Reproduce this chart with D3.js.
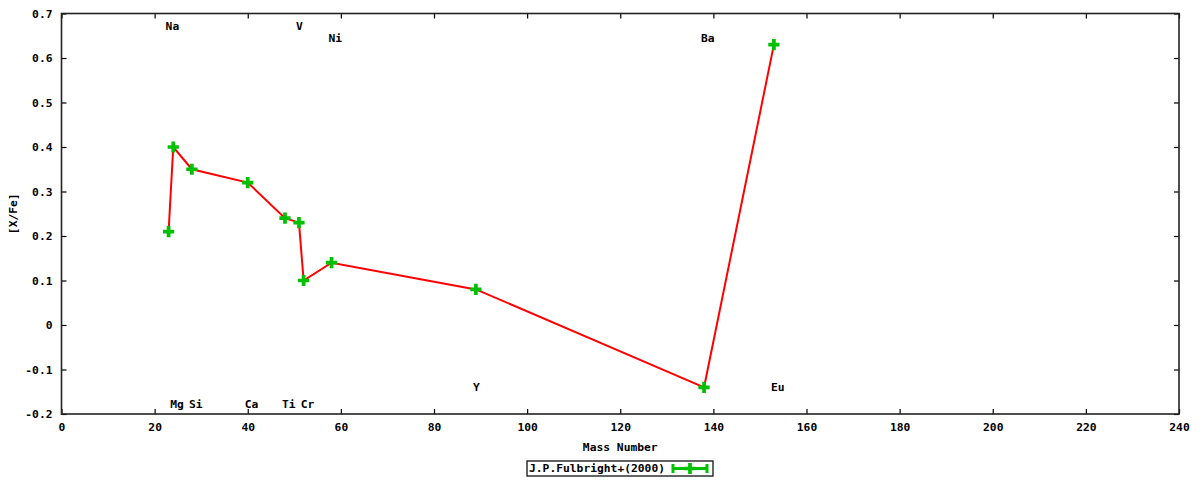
<!DOCTYPE html>
<html>
<head>
<meta charset="utf-8">
<script src="https://cdn.jsdelivr.net/npm/d3@7"></script>
<style>
  body { margin: 0; background: #fff; }
  text { font-family: "DejaVu Sans Mono", monospace; font-weight: bold; font-size: 11.3px; fill: #000; }
</style>
</head>
<body>
<div id="chart"></div>
<script>
// abundances vs mass number
const elements = ['Na', 'Mg', 'Si', 'Ca', 'Ti', 'V', 'Cr', 'Ni', 'Y', 'Ba', 'Eu'];
const mass = [23, 24, 28, 40, 48, 51, 52, 58, 89, 138, 153];
const xfe = [0.21, 0.40, 0.35, 0.32, 0.24, 0.23, 0.10, 0.14, 0.08, -0.14, 0.63];

// element labels: name, mass, y position (data units)
const labelNames = ['Na', 'V', 'Ni', 'Ba', 'Mg', 'Si', 'Ca', 'Ti', 'Cr', 'Y', 'Eu'];
const labelMass = [23, 51, 58, 138, 24, 28, 40, 48, 52, 89, 153];
const labelY = [0.672, 0.672, 0.645, 0.645, -0.177, -0.177, -0.177, -0.177, -0.177, -0.14, -0.14];

const xTicks = [0, 20, 40, 60, 80, 100, 120, 140, 160, 180, 200, 220, 240];
const yTicks = [-0.2, -0.1, 0, 0.1, 0.2, 0.3, 0.4, 0.5, 0.6, 0.7];
const legendLabel = 'J.P.Fulbright+(2000)';

const W = 1200, H = 480;
const margin = { top: 13.5, right: 21, bottom: 66, left: 61.5 };
const width = W - margin.left - margin.right;
const height = H - margin.top - margin.bottom;
const green = '#00c000';

const svg = d3.select('#chart').append('svg')
  .attr('width', W).attr('height', H);

const g = svg.append('g')
  .attr('transform', `translate(${margin.left},${margin.top})`);

const x = d3.scaleLinear().domain([0, 240]).range([0, width]);
const y = d3.scaleLinear().domain([-0.2, 0.7]).range([height, 0]);

const fmt = (d) => (d === 0 ? '0' : d3.format('.1f')(d).replace('−', '-'));

// axes with inward ticks, mirrored on top/right
g.append('g').attr('transform', `translate(0,${height})`)
  .call(d3.axisBottom(x).tickValues(xTicks).tickSizeInner(-5).tickSizeOuter(0).tickPadding(9).tickFormat(d3.format('d')));
g.append('g')
  .call(d3.axisTop(x).tickValues(xTicks).tickSizeInner(-5).tickSizeOuter(0).tickFormat(''));
g.append('g')
  .call(d3.axisLeft(y).tickValues(yTicks).tickSizeInner(-5).tickSizeOuter(0).tickPadding(9).tickFormat(fmt));
g.append('g').attr('transform', `translate(${width},0)`)
  .call(d3.axisRight(y).tickValues(yTicks).tickSizeInner(-5).tickSizeOuter(0).tickFormat(''));

g.selectAll('.domain').remove();
g.selectAll('.tick line').attr('stroke', '#000').attr('stroke-width', 1.2);
g.selectAll('.tick text').attr('fill', '#000');

g.append('rect')
  .attr('width', width).attr('height', height)
  .attr('fill', 'none').attr('stroke', '#222').attr('stroke-width', 1.6);

// element labels
g.selectAll('.elabel')
  .data(labelNames)
  .enter()
  .append('text')
  .attr('class', 'elabel')
  .attr('x', (d, i) => x(labelMass[i]) - 3)
  .attr('y', (d, i) => y(labelY[i]))
  .attr('dy', '0.35em')
  .text((d) => d);

// line
const pts = mass.map((m, i) => [m, xfe[i]]);
g.append('path')
  .datum(pts)
  .attr('fill', 'none')
  .attr('stroke', '#ff0000')
  .attr('stroke-width', 2)
  .attr('d', d3.line().x((d) => x(d[0])).y((d) => y(d[1])));

// plus markers
const plus = d3.symbol().type(d3.symbolCross).size(70);
g.selectAll('.pt')
  .data(pts)
  .enter()
  .append('path')
  .attr('class', 'pt')
  .attr('transform', (d) => `translate(${x(d[0])},${y(d[1])})`)
  .attr('d', plus)
  .attr('fill', green);

// axis titles
svg.append('text')
  .attr('x', margin.left + width / 2)
  .attr('y', 447)
  .attr('dy', '0.35em')
  .attr('text-anchor', 'middle')
  .text('Mass Number');

svg.append('text')
  .attr('transform', `translate(13,${margin.top + height / 2}) rotate(-90)`)
  .attr('dy', '0.35em')
  .attr('text-anchor', 'middle')
  .text('[X/Fe]');

// legend
const lg = svg.append('g').attr('transform', 'translate(527,461)');
lg.append('rect')
  .attr('width', 186).attr('height', 15)
  .attr('fill', '#fff').attr('stroke', '#222').attr('stroke-width', 1.4);
lg.append('text')
  .attr('x', 2).attr('y', 7.5).attr('dy', '0.35em')
  .text(legendLabel);
lg.append('line')
  .attr('x1', 146).attr('x2', 180).attr('y1', 7.5).attr('y2', 7.5)
  .attr('stroke', green).attr('stroke-width', 3);
[146, 180].forEach((cx) => {
  lg.append('line')
    .attr('x1', cx).attr('x2', cx).attr('y1', 3).attr('y2', 12)
    .attr('stroke', green).attr('stroke-width', 3);
});
lg.append('path')
  .attr('transform', 'translate(163,7.5)')
  .attr('d', plus)
  .attr('fill', green);
</script>
</body>
</html>
